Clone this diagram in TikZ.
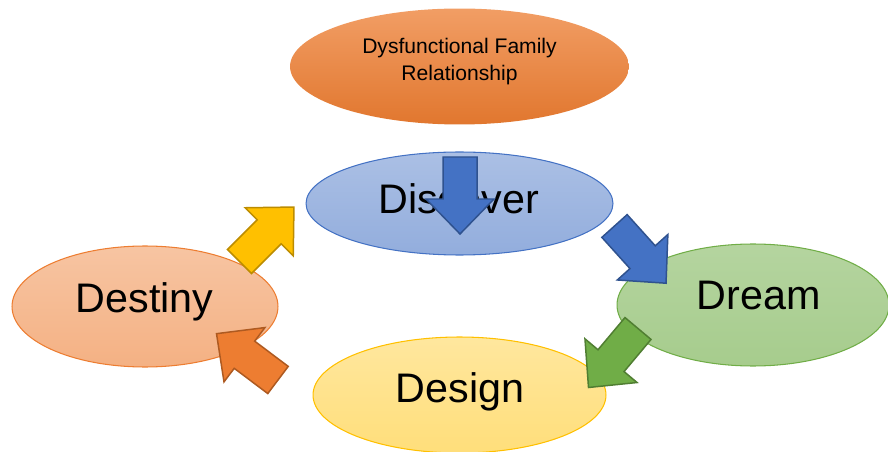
\documentclass[tikz,border=0pt]{standalone}
\usepackage{fontspec}
\setmainfont{Liberation Sans}
\usepackage{tikz}
\usetikzlibrary{shapes.geometric}

\definecolor{blauw}{HTML}{4472C4}
\definecolor{blauwrand}{HTML}{2F528F}
\definecolor{groen}{HTML}{70AD47}
\definecolor{groenrand}{HTML}{507E32}
\definecolor{oranje}{HTML}{ED7D31}
\definecolor{oranjerand}{HTML}{AE5A21}
\definecolor{geel}{HTML}{FFC000}
\definecolor{geelrand}{HTML}{BC8C00}

\tikzset{pics/pijl/.style={code={
  \draw[pic actions] (0,-17) -- (42,-17) -- (42,-34) -- (77,0) -- (42,34) -- (42,17) -- (0,17) -- cycle;
}}}

\begin{document}
\begin{tikzpicture}[x=0.02cm,y=-0.02cm,
  fase/.style={ellipse,inner sep=0pt,line width=0.6pt},
  tekst/.style={anchor=base,font=\fontsize{23.5}{28}\selectfont},
  rand/.style={line width=0.85pt,line join=miter}]
	\useasboundingbox (0,0) rectangle (888,452);
	\node[fase,minimum width=6.78cm,minimum height=2.32cm,top color=oranje!75!white,bottom color=oranje!95!black] (fam) at (459.5,66.5) {};
	\node[fase,minimum width=6.14cm,minimum height=2.06cm,draw=blauw,top color=blauw!45!white,bottom color=blauw!58!white] (discover) at (459.5,203.5) {};
	\node[fase,minimum width=5.44cm,minimum height=2.44cm,draw=groen,top color=groen!52!white,bottom color=groen!62!white] (dream) at (753,305) {};
	\node[fase,minimum width=5.32cm,minimum height=2.42cm,draw=oranje,top color=oranje!45!white,bottom color=oranje!60!white] (destiny) at (145,306.5) {};
	\node[fase,minimum width=5.86cm,minimum height=2.32cm,draw=geel,top color=geel!38!white,bottom color=geel!52!white] (design) at (459.5,395) {};
	\node[anchor=base,align=center,font=\fontsize{12}{15.9}\selectfont] (famtekst) at (459.5,81) {Dysfunctional Family\\Relationship};
	\node[tekst] (t1) at (458.5,214) {Discover};
	\node[tekst] (t2) at (758.5,309) {Dream};
	\node[tekst] (t3) at (460,402) {Design};
	\node[tekst] (t4) at (144.5,312) {Destiny};
	\pic[rand,fill=blauw,draw=blauwrand,rotate=-90] at (460,157) {pijl};
	\pic[rand,fill=blauw,draw=blauwrand,rotate=-48] at (614.5,226) {pijl};
	\pic[rand,fill=groen,draw=groenrand,rotate=-130] at (638,328.5) {pijl};
	\pic[rand,fill=oranje,draw=oranjerand,rotate=143] at (278,380) {pijl};
	\pic[rand,fill=geel,draw=geelrand,rotate=45] at (239.5,261.5) {pijl};
\end{tikzpicture}
\end{document}
